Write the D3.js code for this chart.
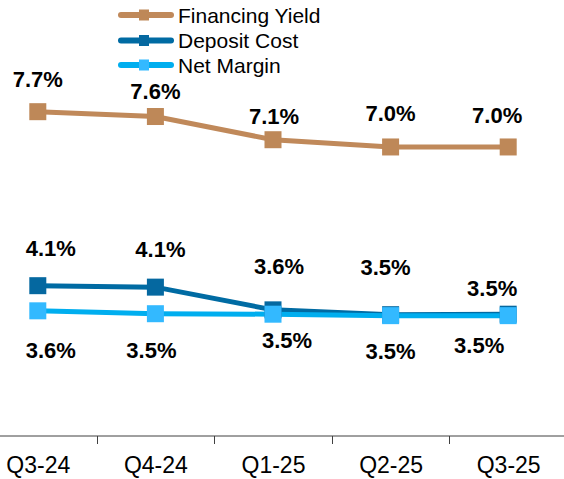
<!DOCTYPE html>
<html><head><meta charset="utf-8">
<script src="https://cdn.jsdelivr.net/npm/d3@7"></script>
<style>body{margin:0;background:#fff}svg{display:block}</style>
</head><body>
<script>
const categories = ["Q3-24","Q4-24","Q1-25","Q2-25","Q3-25"];
const financingYield = [7.71, 7.61, 7.13, 6.98, 6.98];
const depositCost = [4.11, 4.08, 3.61, 3.51, 3.52];
const netMargin = [3.59, 3.53, 3.52, 3.49, 3.49];
const fyLabels = ["7.7%","7.6%","7.1%","7.0%","7.0%"];
const dcLabels = ["4.1%","4.1%","3.6%","3.5%","3.5%"];
const nmLabels = ["3.6%","3.5%","3.5%","3.5%","3.5%"];
const seriesNames = ["Financing Yield","Deposit Cost","Net Margin"];

// label layout offsets (dx, baseline dy relative to marker)
const fyOff = [[0,-25],[0,-17.5],[1,-15.5],[0,-25.5],[-11,-23.5]];
const dcOff = [[13,-29.5],[5,-30.5],[6,-36],[-5,-40],[-16,-18]];
const nmOff = [[13,47],[-4,44],[14,34],[0,43],[-29,37.5]];

const W = 564, H = 479;
const svg = d3.select("body").append("svg").attr("width", W).attr("height", H);

const x = d3.scaleBand().domain(categories).range([-21, 567]).padding(0);
const y = d3.scaleLinear().domain([1, 10]).range([436, 1]);
const cx = c => x(c) + x.bandwidth()/2;

const series = [
  {name: seriesNames[0], values: financingYield, labels: fyLabels, off: fyOff, line: "#C0895A", marker: "#BE8858"},
  {name: seriesNames[1], values: depositCost, labels: dcLabels, off: dcOff, line: "#006BA3", marker: "#0568A0"},
  {name: seriesNames[2], values: netMargin, labels: nmLabels, off: nmOff, line: "#00AEEF", marker: "#33B9FF"}
];

const lineGen = d3.line().x((d,i) => cx(categories[i])).y(d => y(d));

// axis
const axisG = svg.append("g").attr("transform", "translate(0,436)");
axisG.append("line").attr("x1", 0).attr("x2", W).attr("y1", 0).attr("y2", 0)
  .attr("stroke", "#404040").attr("stroke-width", 1);
categories.slice(1).forEach(c => {
  axisG.append("line").attr("x1", Math.round(x(c))+0.5).attr("x2", Math.round(x(c))+0.5)
    .attr("y1", 0).attr("y2", 8).attr("stroke", "#404040").attr("stroke-width", 1);
});
const ax = d3.axisBottom(d3.scalePoint().domain(categories).range([cx(categories[0]), cx(categories[4])]))
  .tickSize(0).tickPadding(0);
const axG2 = svg.append("g").attr("transform", "translate(0,473)").call(ax);
axG2.select(".domain").remove();
axG2.selectAll("text").attr("dy", 0).attr("y", 0)
  .attr("font-family", "Liberation Sans, Arial, sans-serif").attr("font-size", 23)
  .attr("fill", "#000");

// lines and markers
series.forEach(s => {
  svg.append("path").datum(s.values).attr("d", lineGen)
    .attr("fill", "none").attr("stroke", s.line).attr("stroke-width", 5);
});
series.forEach(s => {
  svg.selectAll(null).data(s.values).enter().append("rect")
    .attr("x", (d,i) => cx(categories[i]) - 8.5).attr("y", d => y(d) - 8.5)
    .attr("width", 17).attr("height", 17).attr("fill", s.marker);
});

// data labels
series.forEach(s => {
  svg.selectAll(null).data(s.values).enter().append("text")
    .attr("x", (d,i) => cx(categories[i]) + s.off[i][0])
    .attr("y", (d,i) => y(d) + s.off[i][1])
    .attr("text-anchor", "middle")
    .attr("font-family", "Liberation Sans, Arial, sans-serif")
    .attr("font-weight", "bold").attr("font-size", 22).attr("fill", "#000")
    .text((d,i) => s.labels[i]);
});

// legend
const legY = [15, 40.5, 65];
series.forEach((s,i) => {
  const g = svg.append("g").attr("transform", `translate(0,${legY[i]})`);
  g.append("line").attr("x1", 121).attr("x2", 171).attr("y1", 0).attr("y2", 0)
    .attr("stroke", s.line).attr("stroke-width", 6).attr("stroke-linecap", "round");
  g.append("rect").attr("x", 139).attr("y", -5.5).attr("width", 10).attr("height", 11).attr("fill", s.marker);
  g.append("text").attr("x", 178).attr("y", 7.5)
    .attr("font-family", "Liberation Sans, Arial, sans-serif").attr("font-size", 21)
    .attr("fill", "#000").text(s.name);
});
</script>
</body></html>
